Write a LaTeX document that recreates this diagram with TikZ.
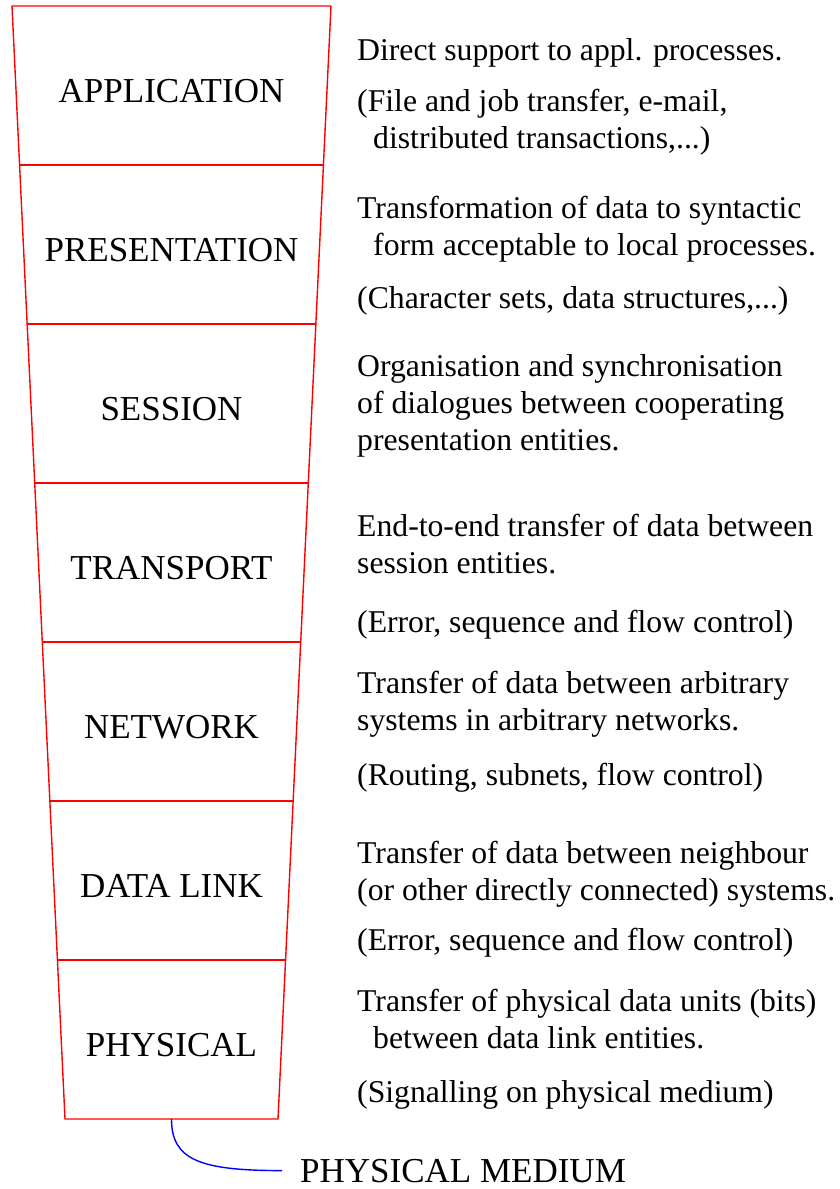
\documentclass[tikz,border=0pt]{standalone}
\usepackage{fontspec}
\setmainfont{Liberation Serif}
\usepackage{tikz}
\usetikzlibrary{calc,positioning}

\begin{document}
\begin{tikzpicture}[x=1pt,y=-1pt,
  layer/.style={anchor=base,font=\fontsize{35}{40}\selectfont,inner sep=0pt},
  desc/.style={anchor=base west,align=left,inner sep=0pt,
    font=\fontsize{31.7}{36.8}\selectfont},
  medium/.style={anchor=base west,font=\fontsize{35}{40}\selectfont,
    inner xsep=18pt,inner ysep=0pt},
  frame/.style={red,line width=1.4pt},
  link/.style={blue,line width=1.4pt}]
\useasboundingbox (0,0) rectangle (839,1189);
% the stack
\coordinate (tl) at (12,6);
\coordinate (tr) at (331,6);
\coordinate (bl) at (65,1119);
\coordinate (br) at (278,1119);
\draw [frame] (tl) -- (tr) -- (br) -- (bl) -- cycle;
\foreach \k in {1,...,6}
  \draw [frame] ($(tl)!\k/7!(bl)$) -- ($(tr)!\k/7!(br)$);
\foreach \name/\txt [count=\i from 0] in {app/APPLICATION,pres/PRESENTATION,
    sess/SESSION,trans/TRANSPORT,net/NETWORK,dl/DATA LINK,phys/PHYSICAL}
  \node [layer] (\name) at (171.5,102+159*\i) {\txt};
% descriptions (multi-line ones sit on their last line)
\node [desc] (appd) at (357,60) {Direct support to appl. processes.};
\node [desc] (appx) at (357,148) {(File and job transfer, e-mail,\\
  \hspace{16pt}distributed transactions,...)};
\node [desc] (presd) at (357,255) {Transformation of data to syntactic\\
  \hspace{16pt}form acceptable to local processes.};
\node [desc] (presx) at (357,308) {(Character sets, data structures,...)};
\node [desc] (sessd) at (357,450) {Organisation and synchronisation\\
  of dialogues between cooperating\\presentation entities.};
\node [desc] (transd) at (357,573) {End-to-end transfer of data between\\
  session entities.};
\node [desc] (transx) at (357,632) {(Error, sequence and flow control)};
\node [desc] (netd) at (357,730) {Transfer of data between arbitrary\\
  systems in arbitrary networks.};
\node [desc] (netx) at (357,785) {(Routing, subnets, flow control)};
\node [desc] (dld) at (357,900) {Transfer of data between neighbour\\
  (or other directly connected) systems.};
\node [desc] (dlx) at (357,950) {(Error, sequence and flow control)};
\node [desc] (physd) at (357,1048) {Transfer of physical data units (bits)\\
  \hspace{16pt}between data link entities.};
\node [desc] (physx) at (357,1102) {(Signalling on physical medium)};
% medium
\node [medium] (pm) at (282,1182) {PHYSICAL MEDIUM};
\coordinate (foot) at ($(bl)!0.5!(br)$);
\draw [link] (foot) .. controls ([yshift=-41pt]foot) and ([xshift=-82pt]pm.west) .. (pm.west);
\end{tikzpicture}
\end{document}
